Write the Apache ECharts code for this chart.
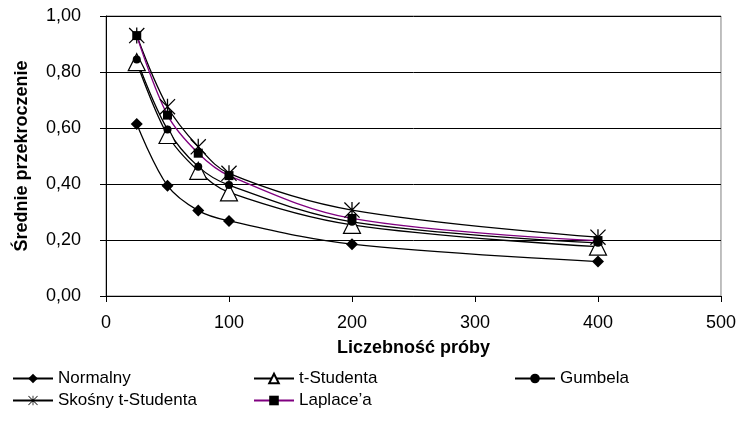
<!DOCTYPE html>
<html>
<head>
<meta charset="utf-8">
<script src="https://cdn.jsdelivr.net/npm/echarts@6/dist/echarts.min.js"></script>
<style>html,body{margin:0;padding:0;background:#fff}#c{width:739px;height:427px}</style>
</head>
<body>
<div id="c"></div>
<script>
var sampleSizes = [25, 50, 75, 100, 200, 400];
var normalny = [0.614, 0.394, 0.305, 0.268, 0.185, 0.123];
var tStudenta = [0.835, 0.575, 0.447, 0.37, 0.254, 0.176];
var gumbela = [0.845, 0.595, 0.462, 0.396, 0.265, 0.19];
var skosny = [0.93, 0.676, 0.533, 0.438, 0.307, 0.21];
var laplace = [0.93, 0.646, 0.51, 0.43, 0.277, 0.198];
var seriesNames = ['Normalny', 't-Studenta', 'Gumbela', 'Skośny t-Studenta', 'Laplace\u2019a'];
var xTicks = [0, 100, 200, 300, 400, 500];
var yTicks = [0, 0.2, 0.4, 0.6, 0.8, 1.0];

var FONT = "'Liberation Sans', Arial, sans-serif";
var starPath = 'path://M9.2,0 L10.8,0 L10.8,20 L9.2,20 Z M0,1.1 L1.1,0 L20,18.9 L18.9,20 Z M18.9,0 L20,1.1 L1.1,20 L0,18.9 Z';

function pairs(vals) { return sampleSizes.map(function (x, i) { return [x, vals[i]]; }); }

var styles = [
  { data: normalny, symbol: 'diamond', size: 12, color: '#000', fill: '#000' },
  { data: tStudenta, symbol: 'triangle', size: 17, color: '#000', fill: '#fff' },
  { data: gumbela, symbol: 'circle', size: 8, color: '#000', fill: '#000' },
  { data: skosny, symbol: starPath, size: 16, color: '#000', fill: '#000' },
  { data: laplace, symbol: 'rect', size: 9, color: '#800080', fill: '#000' }
];

var series = styles.map(function (s, i) {
  return {
    name: seriesNames[i],
    type: 'line',
    data: pairs(s.data),
    smooth: 0.35,
    symbol: s.symbol,
    symbolSize: s.size,
    showAllSymbol: true,
    lineStyle: { color: s.color, width: 1.3 },
    itemStyle: { color: s.fill, borderColor: '#000', borderWidth: s.symbol === 'triangle' ? 1.2 : 0 },
    emphasis: { disabled: true },
    animation: false
  };
});

var legendPos = [
  { left: 12, top: 370 },
  { left: 253, top: 370 },
  { left: 514, top: 370 },
  { left: 12, top: 392 },
  { left: 253, top: 392 }
];
var legends = seriesNames.map(function (n, i) {
  return {
    data: [n],
    left: legendPos[i].left,
    top: legendPos[i].top,
    itemWidth: 40,
    itemHeight: 12,
    itemGap: 0,
    padding: 0,
    selectedMode: false,
    textStyle: { fontFamily: FONT, fontSize: 17, color: '#000', padding: [0, 0, 0, 0] }
  };
});

var chart = echarts.init(document.getElementById('c'), null, { renderer: 'canvas' });
chart.setOption({
  animation: false,
  backgroundColor: '#fff',
  grid: { left: 106, right: 17, top: 16, bottom: 131, show: true, borderColor: '#808080', borderWidth: 1 },
  legend: legends,
  xAxis: {
    type: 'value', min: xTicks[0], max: xTicks[xTicks.length - 1], interval: 100,
    name: 'Liczebność próby', nameLocation: 'middle', nameGap: 43,
    nameTextStyle: { fontFamily: FONT, fontSize: 18, fontWeight: 'bold', color: '#000' },
    axisLine: { lineStyle: { color: '#000', width: 1 } },
    axisTick: { show: true, inside: false, length: 6, lineStyle: { color: '#000' } },
    axisLabel: { fontFamily: FONT, fontSize: 18, color: '#000', margin: 18 },
    splitLine: { show: false }
  },
  yAxis: {
    type: 'value', min: yTicks[0], max: yTicks[yTicks.length - 1], interval: 0.2,
    name: 'Średnie przekroczenie', nameLocation: 'middle', nameGap: 75,
    nameTextStyle: { fontFamily: FONT, fontSize: 18, fontWeight: 'bold', color: '#000' },
    axisLine: { show: true, lineStyle: { color: '#000', width: 1 } },
    axisTick: { show: true, inside: false, length: 6, lineStyle: { color: '#000' } },
    axisLabel: { fontFamily: FONT, fontSize: 18, color: '#000', margin: 25,
      formatter: function (v) { return v.toFixed(2).replace('.', ','); } },
    splitLine: { show: true, lineStyle: { color: '#000', width: 1 } }
  },
  series: series
});
</script>
</body>
</html>
